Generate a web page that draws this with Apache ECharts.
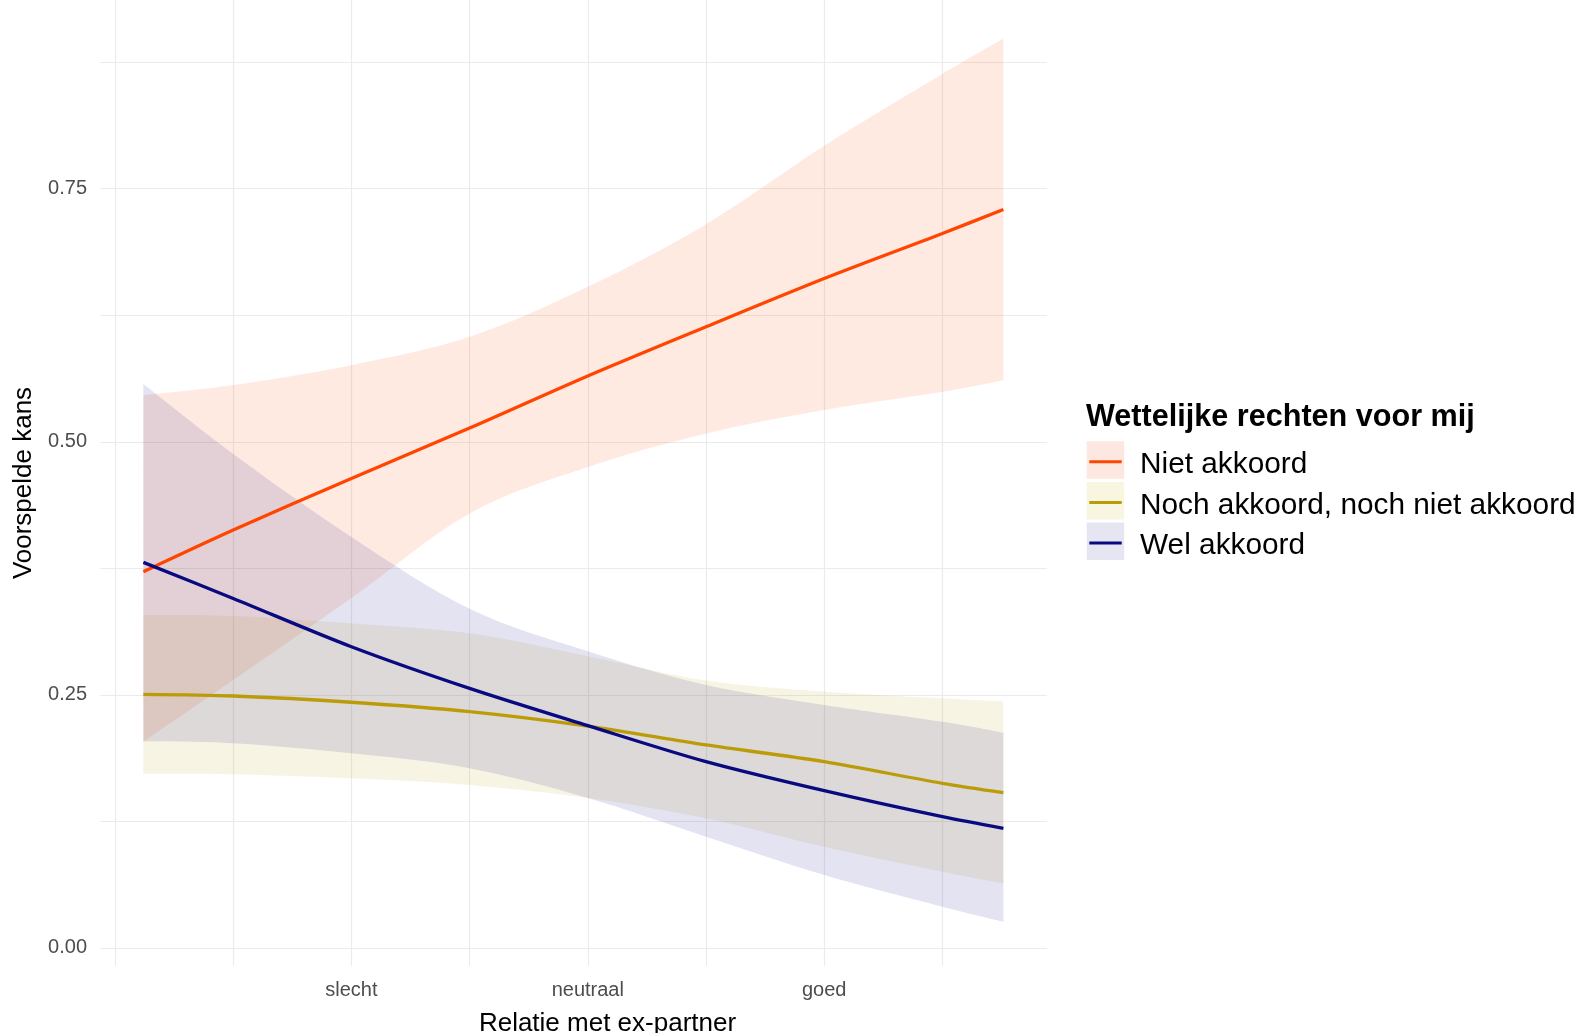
<!DOCTYPE html>
<html>
<head>
<meta charset="utf-8">
<script src="https://cdn.jsdelivr.net/npm/echarts@6/dist/echarts.min.js"></script>
<style>
html,body{margin:0;padding:0;background:#ffffff;}
#chart{width:1581px;height:1033px;}
</style>
</head>
<body>
<div id="chart"></div>
<script>
// ---- data ----
const xValues = [1.12, 1.5, 2, 2.5, 3, 3.5, 4, 4.5, 4.758];
const xTickValues = [2, 3, 4];
const xTickLabels = ['slecht', 'neutraal', 'goed'];
const xGridValues = [1, 1.5, 2, 2.5, 3, 3.5, 4, 4.5];
const yTickValues = [0, 0.25, 0.5, 0.75];
const yGridValues = [0, 0.125, 0.25, 0.375, 0.5, 0.625, 0.75, 0.875];
const seriesNames = ['Niet akkoord', 'Noch akkoord, noch niet akkoord', 'Wel akkoord'];

const nietFit   = [0.3715, 0.4127, 0.4638, 0.5135, 0.5650, 0.6136, 0.6613, 0.7058, 0.7295];
const nietLower = [0.2036, 0.2645, 0.3455, 0.4292, 0.4750, 0.5082, 0.5313, 0.5494, 0.5609];
const nietUpper = [0.5460, 0.5560, 0.5757, 0.6037, 0.6531, 0.7150, 0.7925, 0.8635, 0.8984];

const nochFit   = [0.2504, 0.2488, 0.2426, 0.2333, 0.2190, 0.2004, 0.1839, 0.1625, 0.1533];
const nochLower = [0.1720, 0.1714, 0.1674, 0.1608, 0.1480, 0.1280, 0.0999, 0.0752, 0.0637];
const nochUpper = [0.3288, 0.3278, 0.3205, 0.3107, 0.2880, 0.2640, 0.2530, 0.2465, 0.2432];

const welFit    = [0.3808, 0.3452, 0.2975, 0.2563, 0.2195, 0.1839, 0.1552, 0.1295, 0.1181];
const welLower  = [0.2040, 0.2020, 0.1921, 0.1773, 0.1480, 0.1098, 0.0719, 0.0406, 0.0258];
const welUpper  = [0.5570, 0.4880, 0.4060, 0.3350, 0.2930, 0.2597, 0.2400, 0.2234, 0.2125];

// ---- styling ----
const lineColors = ['#FF4500', '#BB9C08', '#0A0A80'];
const keyColors = ['#FDE8E1', '#F8F6E1', '#E6E6F2'];
const bandOpacity = 0.115;
const FONT = 'Liberation Sans, Arial, Helvetica, sans-serif';

const fits = [nietFit, nochFit, welFit];
const lowers = [nietLower, nochLower, welLower];
const uppers = [nietUpper, nochUpper, welUpper];

function pairs(ys) { return xValues.map((x, i) => [x, ys[i]]); }

// cubic (Catmull-Rom style) path segments through screen points
function curveSegs(p, s) {
  let d = '';
  const n = p.length;
  for (let i = 0; i < n - 1; i++) {
    const p0 = p[Math.max(i - 1, 0)], p1 = p[i], p2 = p[i + 1], p3 = p[Math.min(i + 2, n - 1)];
    const c1x = p1[0] + (p2[0] - p0[0]) * s, c1y = p1[1] + (p2[1] - p0[1]) * s;
    const c2x = p2[0] - (p3[0] - p1[0]) * s, c2y = p2[1] - (p3[1] - p1[1]) * s;
    d += ' C' + c1x.toFixed(2) + ',' + c1y.toFixed(2) + ' ' + c2x.toFixed(2) + ',' + c2y.toFixed(2) + ' ' + p2[0].toFixed(2) + ',' + p2[1].toFixed(2);
  }
  return d;
}

const series = [];
// confidence ribbons (drawn through the axes' scales with api.coord)
for (let k = 0; k < 3; k++) {
  const lo = lowers[k], up = uppers[k], color = lineColors[k];
  series.push({
    name: seriesNames[k] + ' (interval)',
    type: 'custom',
    silent: true,
    clip: true,
    z: 2,
    data: xValues.map((x, i) => [x, lo[i], up[i]]),
    encode: { x: 0, y: [1, 2] },
    renderItem: function (params, api) {
      if (params.dataIndex !== 0) return null;
      const top = xValues.map((x, i) => api.coord([x, up[i]]));
      const bot = xValues.map((x, i) => api.coord([x, lo[i]])).reverse();
      let d = 'M' + top[0][0].toFixed(2) + ',' + top[0][1].toFixed(2);
      d += curveSegs(top, 1 / 6);
      d += ' L' + bot[0][0].toFixed(2) + ',' + bot[0][1].toFixed(2);
      d += curveSegs(bot, 1 / 6);
      d += ' Z';
      return {
        type: 'path',
        shape: { pathData: d },
        style: { fill: color, opacity: bandOpacity, stroke: null }
      };
    }
  });
}
// fitted lines
for (let k = 0; k < 3; k++) {
  series.push({
    name: seriesNames[k],
    type: 'line', smooth: 0.3,
    symbol: 'none', silent: true,
    z: 5,
    lineStyle: { color: lineColors[k], width: 3.3 },
    itemStyle: { color: lineColors[k] },
    data: pairs(fits[k])
  });
}

const chart = echarts.init(document.getElementById('chart'), null, { renderer: 'canvas' });
chart.setOption({
  animation: false,
  backgroundColor: '#ffffff',
  textStyle: { fontFamily: FONT },
  grid: { left: 100, right: 534, top: 0, bottom: 67, containLabel: false, outerBoundsMode: 'none' },
  xAxis: {
    type: 'value',
    min: 0.9365, max: 4.9425,
    axisLine: { show: false },
    axisTick: { show: false, customValues: xGridValues },
    splitLine: { show: true, lineStyle: { color: '#EBEBEB', width: 1.2 } },
    axisLabel: {
      customValues: xTickValues,
      formatter: function (v) {
        const i = xTickValues.indexOf(v);
        return i >= 0 ? xTickLabels[i] : '';
      },
      color: '#4D4D4D', fontSize: 20, fontFamily: FONT, margin: 14
    },
    name: 'Relatie met ex-partner',
    nameLocation: 'middle', nameGap: 45,
    nameTextStyle: { fontSize: 26, color: '#000000', fontFamily: FONT, padding: [0, 0, 0, 68] }
  },
  yAxis: {
    type: 'value',
    min: -0.018, max: 0.9365,
    axisLine: { show: false },
    axisTick: { show: false, customValues: yGridValues },
    splitLine: { show: true, lineStyle: { color: '#EBEBEB', width: 1.2 } },
    axisLabel: {
      customValues: yTickValues,
      formatter: function (v) { return v.toFixed(2); },
      color: '#4D4D4D', fontSize: 20, fontFamily: FONT, margin: 13,
      padding: [4, 0, 0, 0]
    },
    name: 'Voorspelde kans',
    nameLocation: 'middle', nameGap: 51,
    nameTextStyle: { fontSize: 26, color: '#000000', fontFamily: FONT }
  },
  legend: [
    {
      // key backgrounds (ribbon fill)
      orient: 'vertical', left: 1086.7, top: 441.2, padding: 0,
      icon: 'rect', itemWidth: 37.5, itemHeight: 37.5, itemGap: 3.2,
      selectedMode: false,
      data: seriesNames.map((n, k) => ({ name: n, itemStyle: { color: keyColors[k], borderWidth: 0 } })),
      formatter: function () { return ' '; },
      textStyle: { fontSize: 1, lineHeight: 1, color: 'rgba(0,0,0,0)' }
    },
    {
      // key lines + labels
      orient: 'vertical', left: 1089.3, top: 443.7, padding: 0,
      icon: 'rect', itemWidth: 32.4, itemHeight: 3, itemGap: 4.7,
      selectedMode: false,
      data: seriesNames.map((n, k) => ({ name: n, itemStyle: { color: lineColors[k], borderWidth: 0 } })),
      formatter: function (name) { return '{t|' + name + '}'; },
      textStyle: {
        fontSize: 29.8, color: '#000000', fontFamily: FONT,
        rich: { t: { fontSize: 29.8, lineHeight: 30, color: '#000000', fontFamily: FONT, padding: [6, 0, 0, 13.3] } }
      }
    }
  ],
  graphic: [
    {
      type: 'text', left: 1086, top: 402,
      style: { text: 'Wettelijke rechten voor mij', fontSize: 30.6, fontWeight: 'bold', fill: '#000000', fontFamily: FONT }
    }
  ],
  series: series
});
</script>
</body>
</html>
